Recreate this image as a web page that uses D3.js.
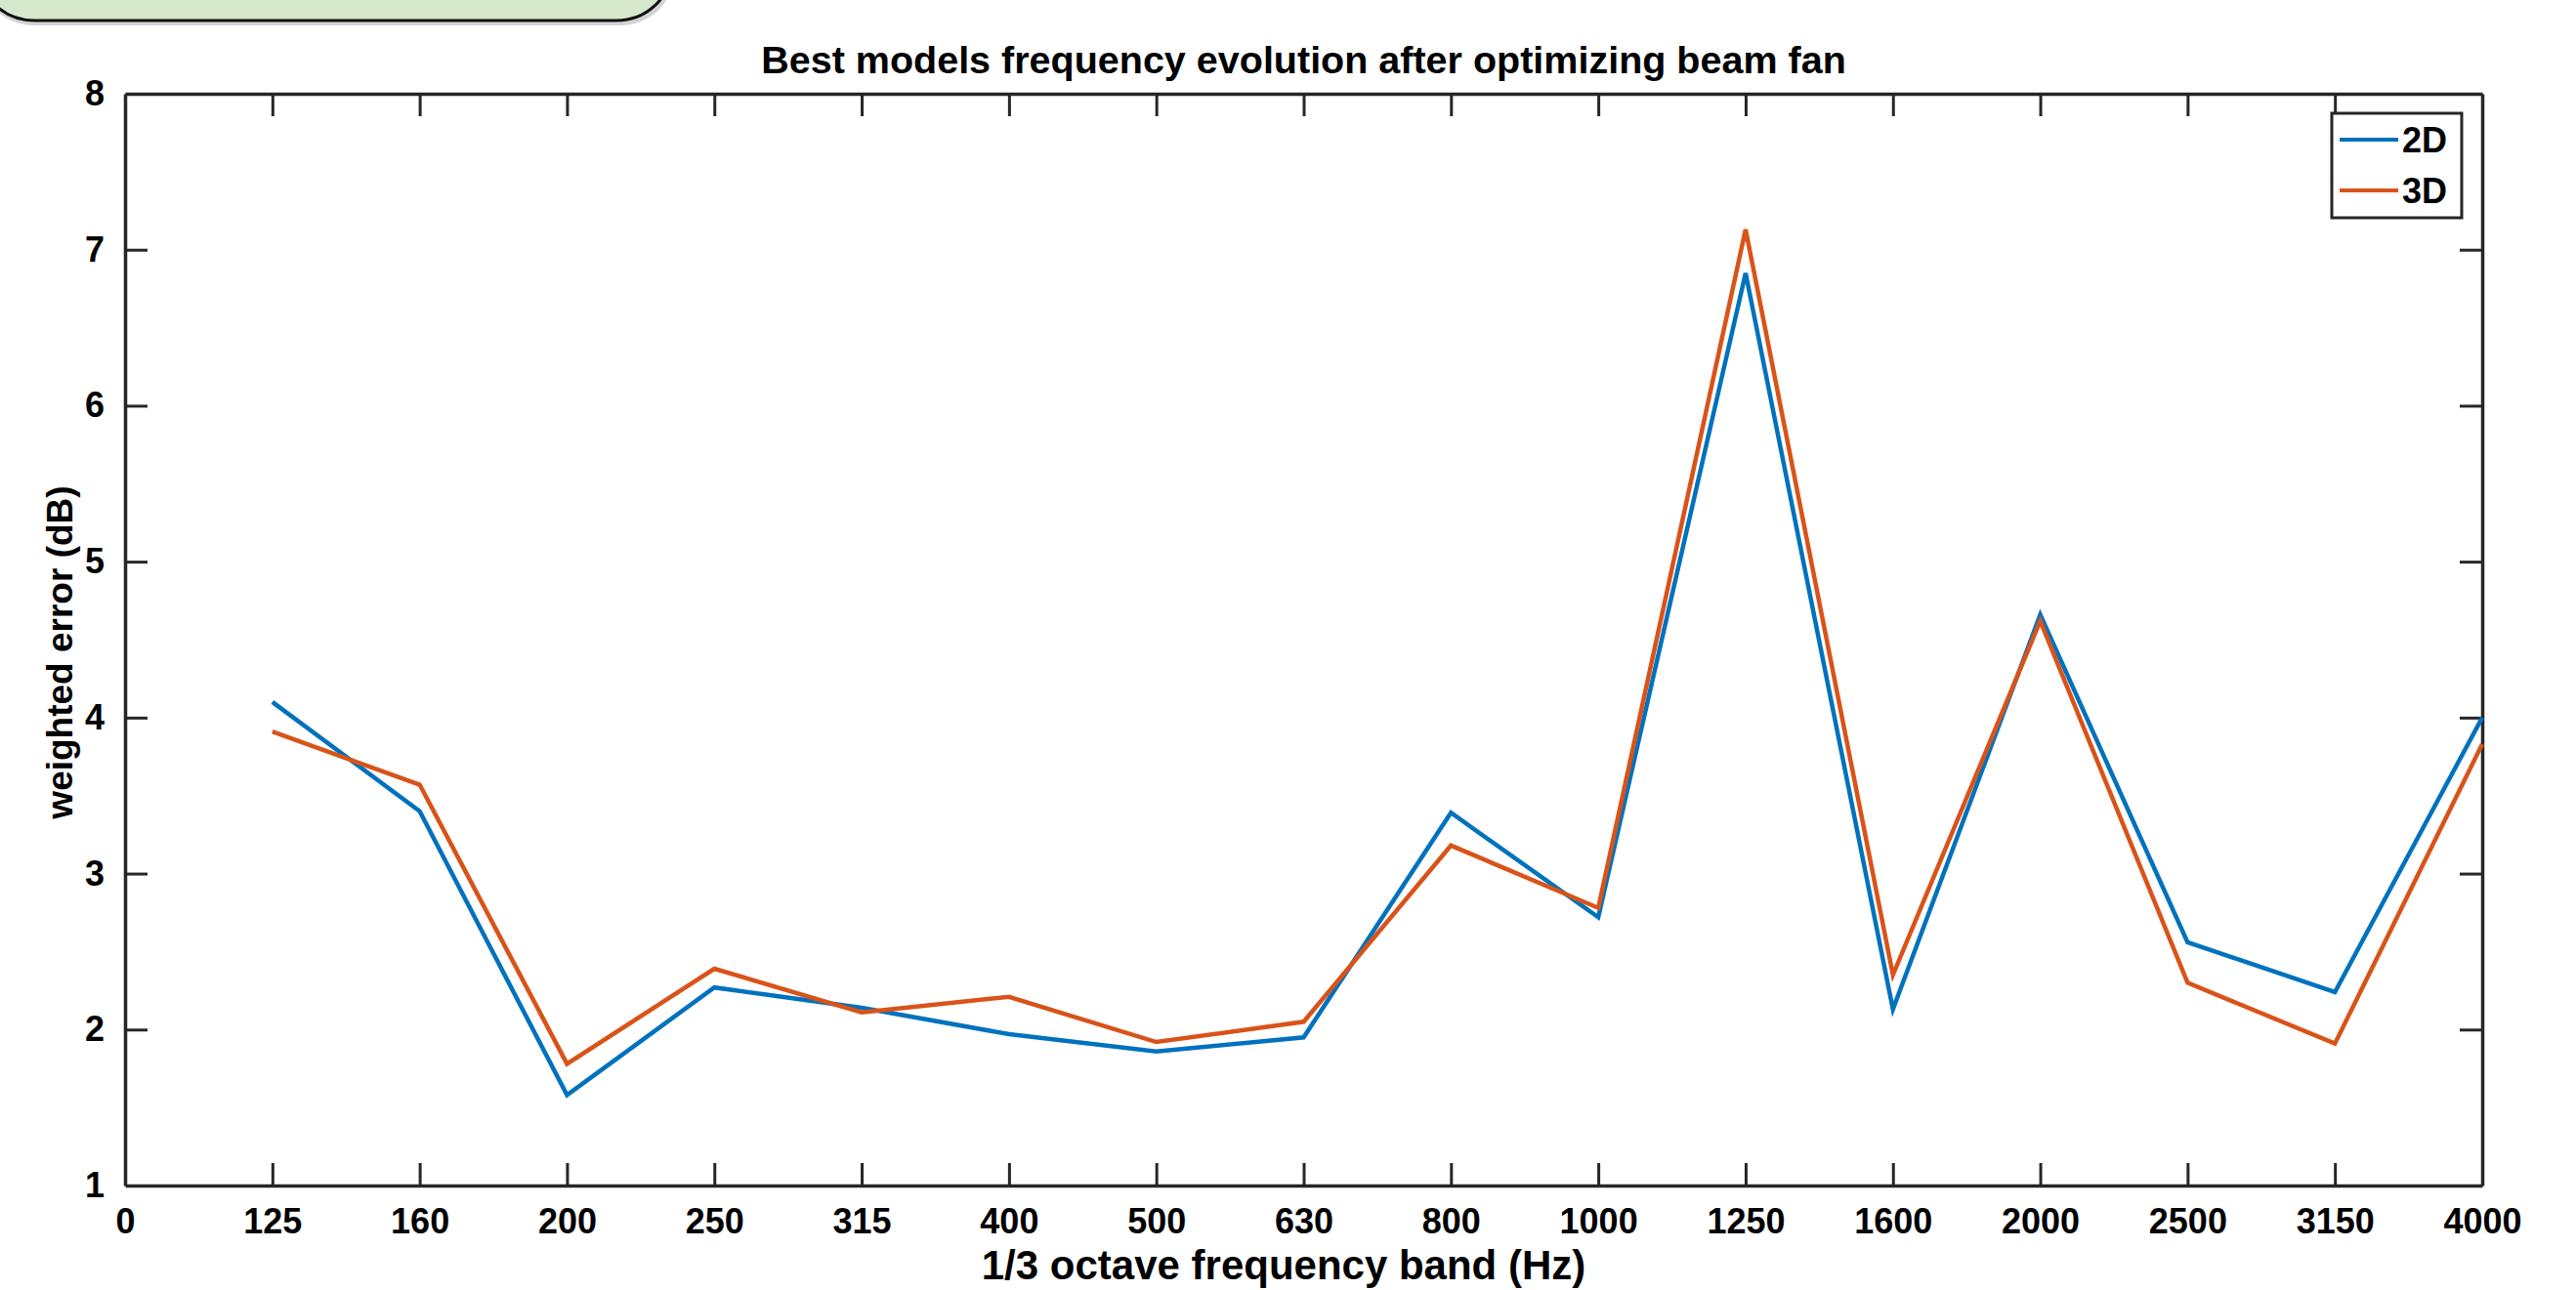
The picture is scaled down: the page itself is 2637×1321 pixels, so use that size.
<!DOCTYPE html>
<html>
<head>
<meta charset="utf-8">
<script src="https://cdn.jsdelivr.net/npm/d3@7"></script>
<style>
  body { margin: 0; background: #fff; }
  text { font-family: "Liberation Sans", Arial, Helvetica, sans-serif; font-weight: bold; }
</style>
</head>
<body>
<div id="vis"></div>
<script>
// category labels along x (position 0 is the empty origin)
const bands = ["0", "125", "160", "200", "250", "315", "400", "500", "630", "800",
    "1000", "1250", "1600", "2000", "2500", "3150", "4000"];
const yTicks = [1, 2, 3, 4, 5, 6, 7, 8];

// weighted error per band, from 125 Hz to 4000 Hz
const err2D = [4.10, 3.40, 1.58, 2.27, 2.14, 1.97, 1.86, 1.95, 3.39, 2.72, 6.85, 2.13, 4.66, 2.56, 2.24, 4.00];
const err3D = [3.91, 3.57, 1.78, 2.39, 2.11, 2.21, 1.92, 2.05, 3.18, 2.78, 7.13, 2.35, 4.62, 2.30, 1.91, 3.83];

const seriesNames = ["2D", "3D"];
const seriesColors = ["#0072BD", "#D95319"];

const width = 2637, height = 1321;
const plotL = 128, plotR = 2541, plotT = 96, plotB = 1214;

const svg = d3.select("#vis")
    .append("svg")
    .attr("width", width)
    .attr("height", height);

// green note box in the corner
svg.append("rect")
    .attr("x", -20).attr("y", -80)
    .attr("width", 710).attr("height", 106)
    .attr("rx", 55).attr("ry", 55)
    .attr("fill", "#b5b5b5").attr("opacity", 0.6);
svg.append("rect")
    .attr("x", -20).attr("y", -80)
    .attr("width", 706).attr("height", 101)
    .attr("rx", 55).attr("ry", 55)
    .attr("fill", "#d6e8cb")
    .attr("stroke", "#111").attr("stroke-width", 3);

const x = d3.scaleLinear()
    .domain([0, bands.length - 1])
    .range([plotL, plotR]);

const y = d3.scaleLinear()
    .domain([1, 8])
    .range([plotB, plotT]);

const axisColor = "#262626";
const tickLen = 23;

function styleAxis(g) {
    g.select(".domain").attr("stroke", axisColor).attr("stroke-width", 3.5);
    g.selectAll(".tick line").attr("stroke", axisColor).attr("stroke-width", 3);
    g.selectAll(".tick text").attr("fill", "#000").attr("font-size", 36);
}

// bottom axis
svg.append("g")
    .attr("transform", `translate(0,${plotB})`)
    .call(d3.axisBottom(x)
        .tickValues(d3.range(bands.length))
        .tickFormat(i => bands[i])
        .tickSizeInner(-tickLen).tickSizeOuter(0).tickPadding(23))
    .call(styleAxis)
    .call(g => g.selectAll(".tick").filter(i => i === 0 || i === bands.length - 1).select("line").remove());

// top axis
svg.append("g")
    .attr("transform", `translate(0,${plotT})`)
    .call(d3.axisTop(x)
        .tickValues(d3.range(1, bands.length - 1))
        .tickFormat("")
        .tickSizeInner(-tickLen).tickSizeOuter(0))
    .call(styleAxis);

// left axis
svg.append("g")
    .attr("transform", `translate(${plotL},0)`)
    .call(d3.axisLeft(y)
        .tickValues(yTicks)
        .tickFormat(d3.format("d"))
        .tickSizeInner(-tickLen).tickSizeOuter(0).tickPadding(21))
    .call(styleAxis)
    .call(g => g.selectAll(".tick").filter(d => d === 1 || d === 8).select("line").remove());

// right axis
svg.append("g")
    .attr("transform", `translate(${plotR},0)`)
    .call(d3.axisRight(y)
        .tickValues(yTicks.slice(1, -1))
        .tickFormat("")
        .tickSizeInner(-tickLen).tickSizeOuter(0))
    .call(styleAxis);

// lines
const line = d3.line()
    .x((d, i) => x(i + 1))
    .y(d => y(d));

[err2D, err3D].forEach((s, k) => {
    svg.append("path")
        .datum(s)
        .attr("fill", "none")
        .attr("stroke", seriesColors[k])
        .attr("stroke-width", 4.5)
        .attr("stroke-linejoin", "miter")
        .attr("d", line);
});

// title and labels
svg.append("text")
    .attr("x", (plotL + plotR) / 2)
    .attr("y", 75)
    .attr("text-anchor", "middle")
    .attr("font-size", 39.5)
    .text("Best models frequency evolution after optimizing beam fan");

svg.append("text")
    .attr("x", 1314)
    .attr("y", 1310)
    .attr("text-anchor", "middle")
    .attr("font-size", 42)
    .text("1/3 octave frequency band (Hz)");

svg.append("text")
    .attr("transform", `translate(74,668) rotate(-90)`)
    .attr("text-anchor", "middle")
    .attr("font-size", 37)
    .text("weighted error (dB)");

// legend
const legend = svg.append("g");
legend.append("rect")
    .attr("x", 2387).attr("y", 116)
    .attr("width", 133).attr("height", 107)
    .attr("fill", "#fff")
    .attr("stroke", axisColor).attr("stroke-width", 3);

seriesNames.forEach((name, k) => {
    const ly = 143 + k * 52;
    legend.append("line")
        .attr("x1", 2395).attr("x2", 2455)
        .attr("y1", ly).attr("y2", ly)
        .attr("stroke", seriesColors[k]).attr("stroke-width", 4);
    legend.append("text")
        .attr("x", 2459).attr("y", ly + 13)
        .attr("font-size", 36)
        .text(name);
});
</script>
</body>
</html>
